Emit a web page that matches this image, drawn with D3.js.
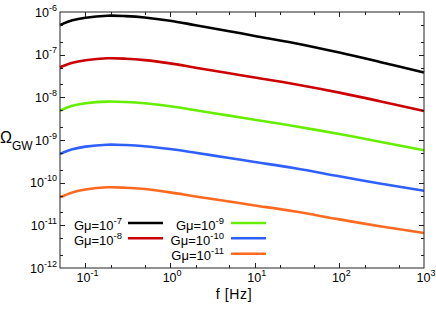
<!DOCTYPE html>
<html><head><meta charset="utf-8">
<script src="https://cdn.jsdelivr.net/npm/d3@7"></script>
<style>
html,body{margin:0;padding:0;background:#fff;}
svg text{font-family:"Liberation Sans",Arial,Helvetica,sans-serif;fill:#000;}
</style></head>
<body><svg id="c" width="436" height="309"></svg>
<script>
// ---- data ----
const freq = [0.05, 0.07, 0.1, 0.18, 0.3, 0.5, 1, 2, 5, 10, 30, 100, 300, 1000];
const gmu7  = [4.95e-7, 6.38e-7, 7.36e-7, 8.18e-7, 8.00e-7, 7.45e-7, 6.24e-7, 4.90e-7, 3.55e-7, 2.75e-7, 1.86e-7, 1.12e-7, 6.76e-8, 3.80e-8];
const gmu8  = [5.06e-8, 6.46e-8, 7.41e-8, 8.22e-8, 8.04e-8, 7.46e-8, 6.24e-8, 4.95e-8, 3.66e-8, 2.92e-8, 2.03e-8, 1.29e-8, 8.13e-9, 4.79e-9];
const gmu9  = [4.86e-9, 6.31e-9, 7.24e-9, 7.94e-9, 7.78e-9, 7.28e-9, 6.17e-9, 4.98e-9, 3.72e-9, 2.99e-9, 2.10e-9, 1.38e-9, 9.12e-10, 5.75e-10];
const gmu10 = [4.70e-10, 6.03e-10, 7.00e-10, 7.76e-10, 7.62e-10, 7.16e-10, 6.14e-10, 5.01e-10, 3.78e-10, 3.05e-10, 2.17e-10, 1.41e-10, 9.55e-11, 6.46e-11];
const gmu11 = [4.54e-11, 5.89e-11, 6.92e-11, 7.80e-11, 7.62e-11, 7.08e-11, 5.92e-11, 4.76e-11, 3.61e-11, 2.93e-11, 2.10e-11, 1.38e-11, 9.55e-12, 6.61e-12];
const seriesExp = ["-7", "-8", "-9", "-10", "-11"];
const seriesColors = ["#000000", "#cc0000", "#66ee00", "#2f5fff", "#ff6a20"];
const xTickExp = [-1, 0, 1, 2, 3];
const yTickExp = [-6, -7, -8, -9, -10, -11, -12];
const xLabel = "f [Hz]";

const series = [gmu7, gmu8, gmu9, gmu10, gmu11];

// ---- layout ----
const L = 60, R = 424, T = 12, B = 268;
const svg = d3.select("#c");
const x = d3.scaleLog().domain([0.05, 1000]).range([L, R]);
const y = d3.scaleLog().domain([1e-12, 1e-6]).range([B, T]);

// curves
const line = d3.line().x(d => x(d[0])).y(d => y(d[1])).curve(d3.curveCatmullRom.alpha(0.5));
series.forEach((s, i) => {
  svg.append("path")
    .attr("d", line(freq.map((f, j) => [f, s[j]])))
    .attr("fill", "none")
    .attr("stroke", seriesColors[i])
    .attr("stroke-width", 2.6)
    .attr("stroke-linejoin", "round");
});

// frame
svg.append("rect").attr("x", L).attr("y", T).attr("width", R - L).attr("height", B - T)
  .attr("fill", "none").attr("stroke", "#222").attr("stroke-width", 1);

// ticks
const tk = svg.append("g").attr("stroke", "#222").attr("stroke-width", 1);
function xt(v, len) {
  const p = Math.round(x(v)) + 0.5;
  tk.append("line").attr("x1", p).attr("x2", p).attr("y1", B).attr("y2", B - len);
  tk.append("line").attr("x1", p).attr("x2", p).attr("y1", T).attr("y2", T + len);
}
function yt(v, len) {
  const p = Math.round(y(v)) + 0.5;
  tk.append("line").attr("y1", p).attr("y2", p).attr("x1", L).attr("x2", L + len);
  tk.append("line").attr("y1", p).attr("y2", p).attr("x1", R).attr("x2", R - len);
}
for (let e = -2; e <= 3; e++) {
  [1, 2, 5].forEach(m => {
    const v = m * Math.pow(10, e);
    if (v > 0.05 && v < 1000) xt(v, m === 1 ? 5 : 3);
  });
}
for (let e = -12; e <= -6; e++) {
  [1, 2, 5].forEach(m => {
    const v = m * Math.pow(10, e);
    if (v > 1e-12 * 1.001 && v < 1e-6 * 0.999) yt(v, m === 1 ? 5 : 3);
  });
}

// tick labels
xTickExp.forEach(e => {
  const t = svg.append("text").attr("x", x(Math.pow(10, e)) + 2).attr("y", 282)
    .attr("text-anchor", "middle").attr("font-size", 12.5);
  t.append("tspan").text("10");
  t.append("tspan").attr("dy", -6).attr("font-size", 9).text(String(e));
});
yTickExp.forEach(e => {
  const t = svg.append("text").attr("x", 57).attr("y", y(Math.pow(10, e)) + 4.5)
    .attr("text-anchor", "end").attr("font-size", 12.5);
  t.append("tspan").text("10");
  t.append("tspan").attr("dy", -6).attr("font-size", 9).text(String(e));
});

// axis labels
svg.append("text").attr("x", 234).attr("y", 299).attr("text-anchor", "middle")
  .attr("font-size", 14).attr("letter-spacing", 0.6).text(xLabel);
const yl = svg.append("text").attr("x", 0).attr("y", 142.5).attr("font-size", 16);
yl.append("tspan").text("Ω");
yl.append("tspan").attr("dy", 7).attr("font-size", 12).text("GW");

// legend
const legPos = [
  {tx: 122, lx: 128, ly: 223},
  {tx: 122, lx: 128, ly: 238.3},
  {tx: 224, lx: 231, ly: 223},
  {tx: 224, lx: 231, ly: 238.3},
  {tx: 224, lx: 231, ly: 253.7}
];
seriesExp.forEach((e, i) => {
  const p = legPos[i];
  const t = svg.append("text").attr("x", p.tx).attr("y", p.ly + 6.5)
    .attr("text-anchor", "end").attr("font-size", 13);
  t.append("tspan").text("Gμ=10");
  t.append("tspan").attr("dy", -6).attr("font-size", 9.5).text(e);
  svg.append("line").attr("x1", p.lx).attr("x2", p.lx + 35).attr("y1", p.ly).attr("y2", p.ly)
    .attr("stroke", seriesColors[i]).attr("stroke-width", 2.6);
});
</script></body></html>
